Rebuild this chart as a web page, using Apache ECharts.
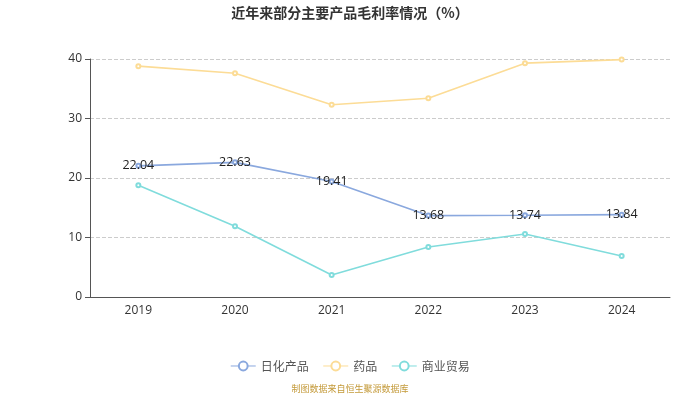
<!DOCTYPE html>
<html><head><meta charset="utf-8">
<script src="https://cdn.jsdelivr.net/npm/echarts@6/dist/echarts.min.js"></script>
<style>html,body{margin:0;padding:0;background:#fff}#c{width:700px;height:394px}</style>
</head><body><div id="c"></div>
<script>
var categories = ['2019','2020','2021','2022','2023','2024'];
var riHua = [22.04, 22.63, 19.41, 13.68, 13.74, 13.84];
var yaoPin = [38.8, 37.6, 32.3, 33.4, 39.3, 39.9];
var shangYe = [18.8, 11.9, 3.7, 8.4, 10.6, 6.9];
var yTicks = [0, 10, 20, 30, 40];

var chart = echarts.init(document.getElementById('c'));
function ser(name, data, color, showLabel) {
  return {
    name: name, type: 'line', data: data, symbol: 'emptyCircle', symbolSize: 4,
    lineStyle: {color: color, width: 1.6}, itemStyle: {color: color},
    label: {show: showLabel, position: 'inside', color: '#222', fontSize: 12.5, fontFamily: 'Open Sans'}
  };
}
chart.setOption({
  title: {text: '近年来部分主要产品毛利率情况（%）', left: 'center', top: 1,
    textStyle: {fontSize: 14, fontWeight: 'bold', color: '#333', fontFamily: 'Noto Sans CJK SC'}},
  grid: {left: 90, right: 30, top: 59, bottom: 97},
  legend: {bottom: 17, itemGap: 14, itemWidth: 25, itemHeight: 11,
    itemStyle: {borderWidth: 1}, lineStyle: {width: 1},
    textStyle: {color: '#555', fontSize: 12, fontFamily: 'Noto Sans CJK SC'},
    data: ['日化产品','药品','商业贸易']},
  graphic: [{type: 'text', left: 'center', top: 384, style: {text: '制图数据来自恒生聚源数据库', fill: '#c49a3a', fontSize: 9, fontFamily: 'Noto Sans CJK SC'}}],
  xAxis: {type: 'category', data: categories, boundaryGap: true,
    axisLine: {lineStyle: {color: '#555'}}, axisTick: {lineStyle: {color: '#555'}},
    axisLabel: {color: '#333', fontSize: 12, margin: 8, fontFamily: 'Open Sans'}},
  yAxis: {type: 'value', min: yTicks[0], max: yTicks[yTicks.length-1], interval: 10,
    axisLine: {show: true, lineStyle: {color: '#555'}}, axisTick: {show: true, lineStyle: {color: '#555'}},
    axisLabel: {color: '#333', fontSize: 12, fontFamily: 'Open Sans'},
    splitLine: {lineStyle: {type: 'dashed', color: '#ccc'}}},
  series: [
    ser('日化产品', riHua, '#8aa8de', true),
    ser('药品', yaoPin, '#fcdc96', false),
    ser('商业贸易', shangYe, '#80dcdc', false)
  ]
});
</script></body></html>
